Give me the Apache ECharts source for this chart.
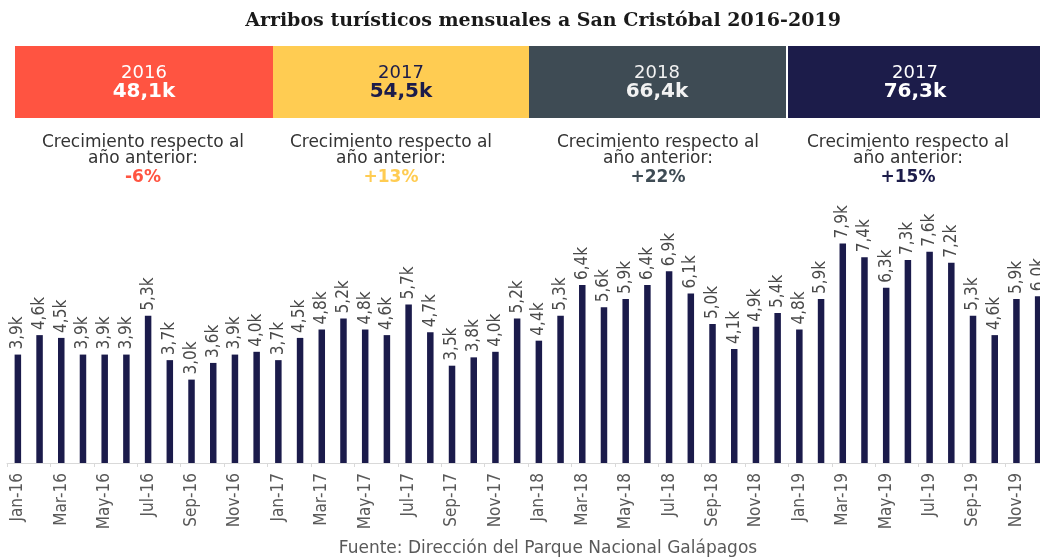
<!DOCTYPE html>
<html>
<head>
<meta charset="utf-8">
<script src="https://cdn.jsdelivr.net/npm/echarts@6/dist/echarts.min.js"></script>
<style>
  html, body { margin: 0; padding: 0; background: #ffffff; overflow: hidden; }
  /* the plot runs a little past the right edge of the page, so the last month is clipped */
  #chart { width: 1052px; height: 560px; }
</style>
</head>
<body>
<div id="chart"></div>
<script>
// Monthly tourist arrivals (thousands), Jan-2016 .. Dec-2019
const months = [
  'Jan-16','Feb-16','Mar-16','Apr-16','May-16','Jun-16','Jul-16','Aug-16','Sep-16','Oct-16','Nov-16','Dec-16',
  'Jan-17','Feb-17','Mar-17','Apr-17','May-17','Jun-17','Jul-17','Aug-17','Sep-17','Oct-17','Nov-17','Dec-17',
  'Jan-18','Feb-18','Mar-18','Apr-18','May-18','Jun-18','Jul-18','Aug-18','Sep-18','Oct-18','Nov-18','Dec-18',
  'Jan-19','Feb-19','Mar-19','Apr-19','May-19','Jun-19','Jul-19','Aug-19','Sep-19','Oct-19','Nov-19','Dec-19'
];
const arrivals2016 = [3.9, 4.6, 4.5, 3.9, 3.9, 3.9, 5.3, 3.7, 3.0, 3.6, 3.9, 4.0];
const arrivals2017 = [3.7, 4.5, 4.8, 5.2, 4.8, 4.6, 5.7, 4.7, 3.5, 3.8, 4.0, 5.2];
const arrivals2018 = [4.4, 5.3, 6.4, 5.6, 5.9, 6.4, 6.9, 6.1, 5.0, 4.1, 4.9, 5.4];
const arrivals2019 = [4.8, 5.9, 7.9, 7.4, 6.3, 7.3, 7.6, 7.2, 5.3, 4.6, 5.9, 6.0];

// Yearly summary panels
const panelYears  = ['2016', '2017', '2018', '2017'];
const panelTotals = ['48,1k', '54,5k', '66,4k', '76,3k'];
const panelGrowth = ['-6%', '+13%', '+22%', '+15%'];

const titleText  = 'Arribos turísticos mensuales a San Cristóbal 2016-2019';
const sourceText = 'Fuente: Dirección del Parque Nacional Galápagos';
const growthLine1 = 'Crecimiento respecto al';
const growthLine2 = 'año anterior:';

const values = arrivals2016.concat(arrivals2017, arrivals2018, arrivals2019);

// Panel styling
const panelFill   = ['#FF5441', '#FFCC52', '#3E4B54', '#1C1C4A'];
const panelInk    = ['#ffffff', '#1C1C4A', '#f2f2f2', '#ffffff'];
const panelBoxes  = [[15, 273], [273, 529], [529, 786], [788, 1052]];
const panelCx     = [144, 401, 657, 915];
const growthX     = [143, 391, 658, 908];

const barColor = '#1B1B4B';
const sans = '"DejaVu Sans", "Liberation Sans", sans-serif';
const condensed = '"DejaVu Sans Condensed", "DejaVu Sans", sans-serif';

const graphics = [];
panelBoxes.forEach(function (b, i) {
  const cx = panelCx[i];
  graphics.push({
    type: 'rect', silent: true,
    shape: { x: b[0], y: 46, width: b[1] - b[0], height: 72 },
    style: { fill: panelFill[i] }
  });
  graphics.push({
    type: 'text', silent: true,
    style: { text: panelYears[i], x: cx, y: 73, align: 'center', verticalAlign: 'middle',
             fill: panelInk[i], fontSize: 18, fontFamily: sans }
  });
  graphics.push({
    type: 'text', silent: true,
    style: { text: panelTotals[i], x: cx, y: 92, align: 'center', verticalAlign: 'middle',
             fill: panelInk[i], fontSize: 20, fontWeight: 'bold', fontFamily: sans }
  });
  graphics.push({
    type: 'text', silent: true,
    style: { text: growthLine1, x: growthX[i], y: 143, align: 'center', verticalAlign: 'middle',
             fill: '#333333', fontSize: 17, fontFamily: sans }
  });
  graphics.push({
    type: 'text', silent: true,
    style: { text: growthLine2, x: growthX[i], y: 159, align: 'center', verticalAlign: 'middle',
             fill: '#333333', fontSize: 17, fontFamily: sans }
  });
  graphics.push({
    type: 'text', silent: true,
    style: { text: panelGrowth[i], x: growthX[i], y: 178, align: 'center', verticalAlign: 'middle',
             fill: panelFill[i], fontSize: 17, fontWeight: 'bold', fontFamily: sans }
  });
});
graphics.push({
  type: 'text', silent: true,
  style: { text: sourceText, x: 548, y: 549, align: 'center', verticalAlign: 'middle',
           fill: '#595959', fontSize: 17, fontFamily: sans }
});

const chart = echarts.init(document.getElementById('chart'), null, { renderer: 'canvas' });
chart.setOption({
  animation: false,
  backgroundColor: '#ffffff',
  title: {
    text: titleText,
    left: 538, top: 7, textAlign: 'center',
    textStyle: { fontFamily: '"DejaVu Serif", "Liberation Serif", serif', fontWeight: 'bold',
                 fontSize: 19, color: '#1a1a1a' }
  },
  grid: { left: 7, width: 1042, top: 185, bottom: 97, containLabel: false },
  xAxis: {
    type: 'category',
    data: months,
    boundaryGap: true,
    axisLine: { lineStyle: { color: '#d9d9d9', width: 1 } },
    axisTick: { show: true, interval: 1, length: 4, lineStyle: { color: '#d9d9d9' } },
    axisLabel: {
      interval: 1, rotate: 90, margin: 10,
      color: '#595959', fontSize: 17, fontFamily: condensed
    }
  },
  yAxis: {
    type: 'value', min: 0, max: 10,
    show: false, splitLine: { show: false }
  },
  series: [{
    type: 'bar',
    data: values,
    barWidth: 6.5,
    itemStyle: { color: barColor },
    label: {
      show: true, position: 'top', rotate: 90, align: 'left', verticalAlign: 'middle',
      distance: 5,
      formatter: function (p) { return p.value.toFixed(1).replace('.', ',') + 'k'; },
      color: '#4a4a4a', fontSize: 17, fontFamily: condensed
    }
  }],
  graphic: graphics
});
</script>
</body>
</html>
